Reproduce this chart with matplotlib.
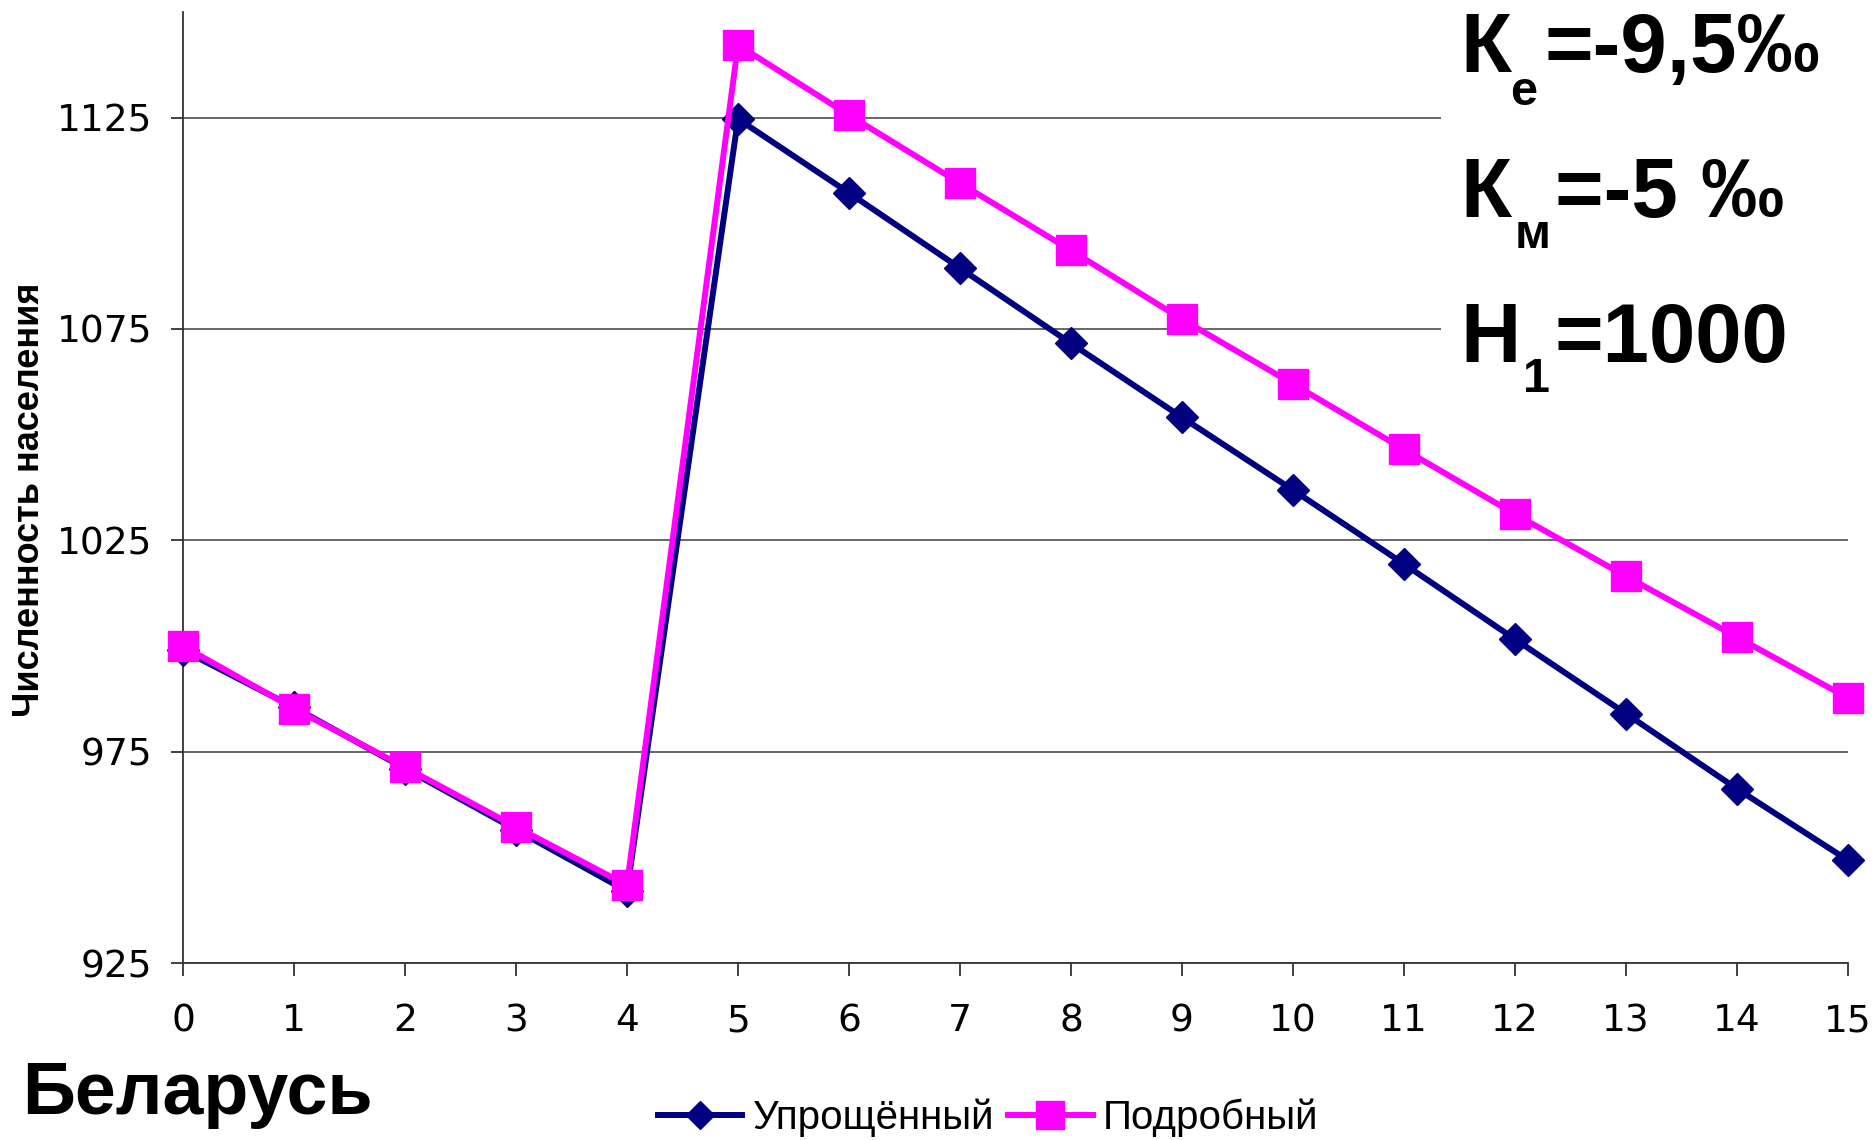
import matplotlib
matplotlib.use("Agg")
import matplotlib.pyplot as plt
from matplotlib.patches import Rectangle
from matplotlib.transforms import IdentityTransform

plt.rcParams['font.family'] = ['Liberation Sans', 'DejaVu Sans']

years = list(range(16))
simplified = [999, 985.5, 971, 956.5, 942, 1124.7, 1107.2, 1089.4, 1071.6, 1054.1,
              1036.9, 1019.4, 1001.6, 984.0, 966.2, 949.3]
detailed = [1000, 985.2, 971.3, 957.2, 943.4, 1142.2, 1125.6, 1109.5, 1093.6, 1077.3,
            1062.0, 1046.5, 1031.2, 1016.5, 1002.1, 987.7]
yticks = [925, 975, 1025, 1075, 1125]
series_names = ['Упрощённый', 'Подробный']
country = 'Беларусь'
ylabel = 'Численность населения'

W, H = 1876, 1140
fig = plt.figure(figsize=(W / 100, H / 100), dpi=100)
ax = fig.add_axes([183 / W, 177 / H, (1848 - 183) / W, (1128 - 177) / H])

navy = '#000080'
magenta = '#FF00FF'
ax.plot(years, simplified, color=navy, lw=4.3, marker='D', ms=16, mec=navy,
        mfc=navy, label=series_names[0], clip_on=False, zorder=3)
ax.plot(years, detailed, color=magenta, lw=4.3, marker='s', ms=22, mec=magenta,
        mfc=magenta, label=series_names[1], clip_on=False, zorder=4)

ax.set_xlim(0, 15)
ax.set_ylim(925, 1150)
ax.set_xticks(years)
ax.set_yticks(yticks)
ax.grid(axis='y', color='#4d4d4d', lw=1.2)
ax.set_axisbelow(True)
for s in ['top', 'right']:
    ax.spines[s].set_visible(False)
for s in ['left', 'bottom']:
    ax.spines[s].set_color('#333333')
    ax.spines[s].set_linewidth(1.3)
ax.tick_params(axis='y', direction='out', length=9, width=1.3, color='#333333',
               labelsize=27, pad=13)
ax.tick_params(axis='x', direction='out', length=9, width=1.3, color='#333333',
               labelsize=27, pad=20)
for lab in ax.get_xticklabels() + ax.get_yticklabels():
    lab.set_family(['DejaVu Sans'])

fig.text(30 / W, 640 / H, ylabel, rotation=90, ha='center', va='center',
         fontsize=26, fontweight='bold',
         family=['Liberation Sans Narrow', 'Liberation Sans', 'DejaVu Sans'])

fig.text(22 / W, (H - 1114) / H, country, fontsize=53, fontweight='bold',
         ha='left', va='baseline')

leg = fig.legend(loc='center', bbox_to_anchor=(988 / W, 22 / H), ncol=2,
                 frameon=False, fontsize=29, handlelength=2.1,
                 handletextpad=0.25, columnspacing=0.35, markerscale=0.9)

# white box behind the parameter text
fig.patches.append(Rectangle((1441 / W, (H - 370) / H), (W - 1441) / W, 370 / H,
                             transform=fig.transFigure, facecolor='white',
                             edgecolor='none', zorder=5))

idt = IdentityTransform()
big, small = 60, 35
params = [
    ('К', 'е', '=-9,5‰', 72, 105, 1510, 1545),
    ('К', 'м', '=-5 ‰', 217, 248, 1515, 1555),
    ('Н', '1', '=1000', 362, 392, 1523, 1555),
]
for main, sub, rest, base, sbase, sx, rx in params:
    fig.text(1460, H - base, main, transform=idt, fontsize=big, fontweight='bold',
             va='baseline', ha='left', zorder=6)
    fig.text(sx, H - sbase, sub, transform=idt, fontsize=small, fontweight='bold',
             va='baseline', ha='left', zorder=6)
    fig.text(rx, H - base, rest, transform=idt, fontsize=big, fontweight='bold',
             va='baseline', ha='left', zorder=6)

fig.savefig('out.png', dpi=100, facecolor='white')
